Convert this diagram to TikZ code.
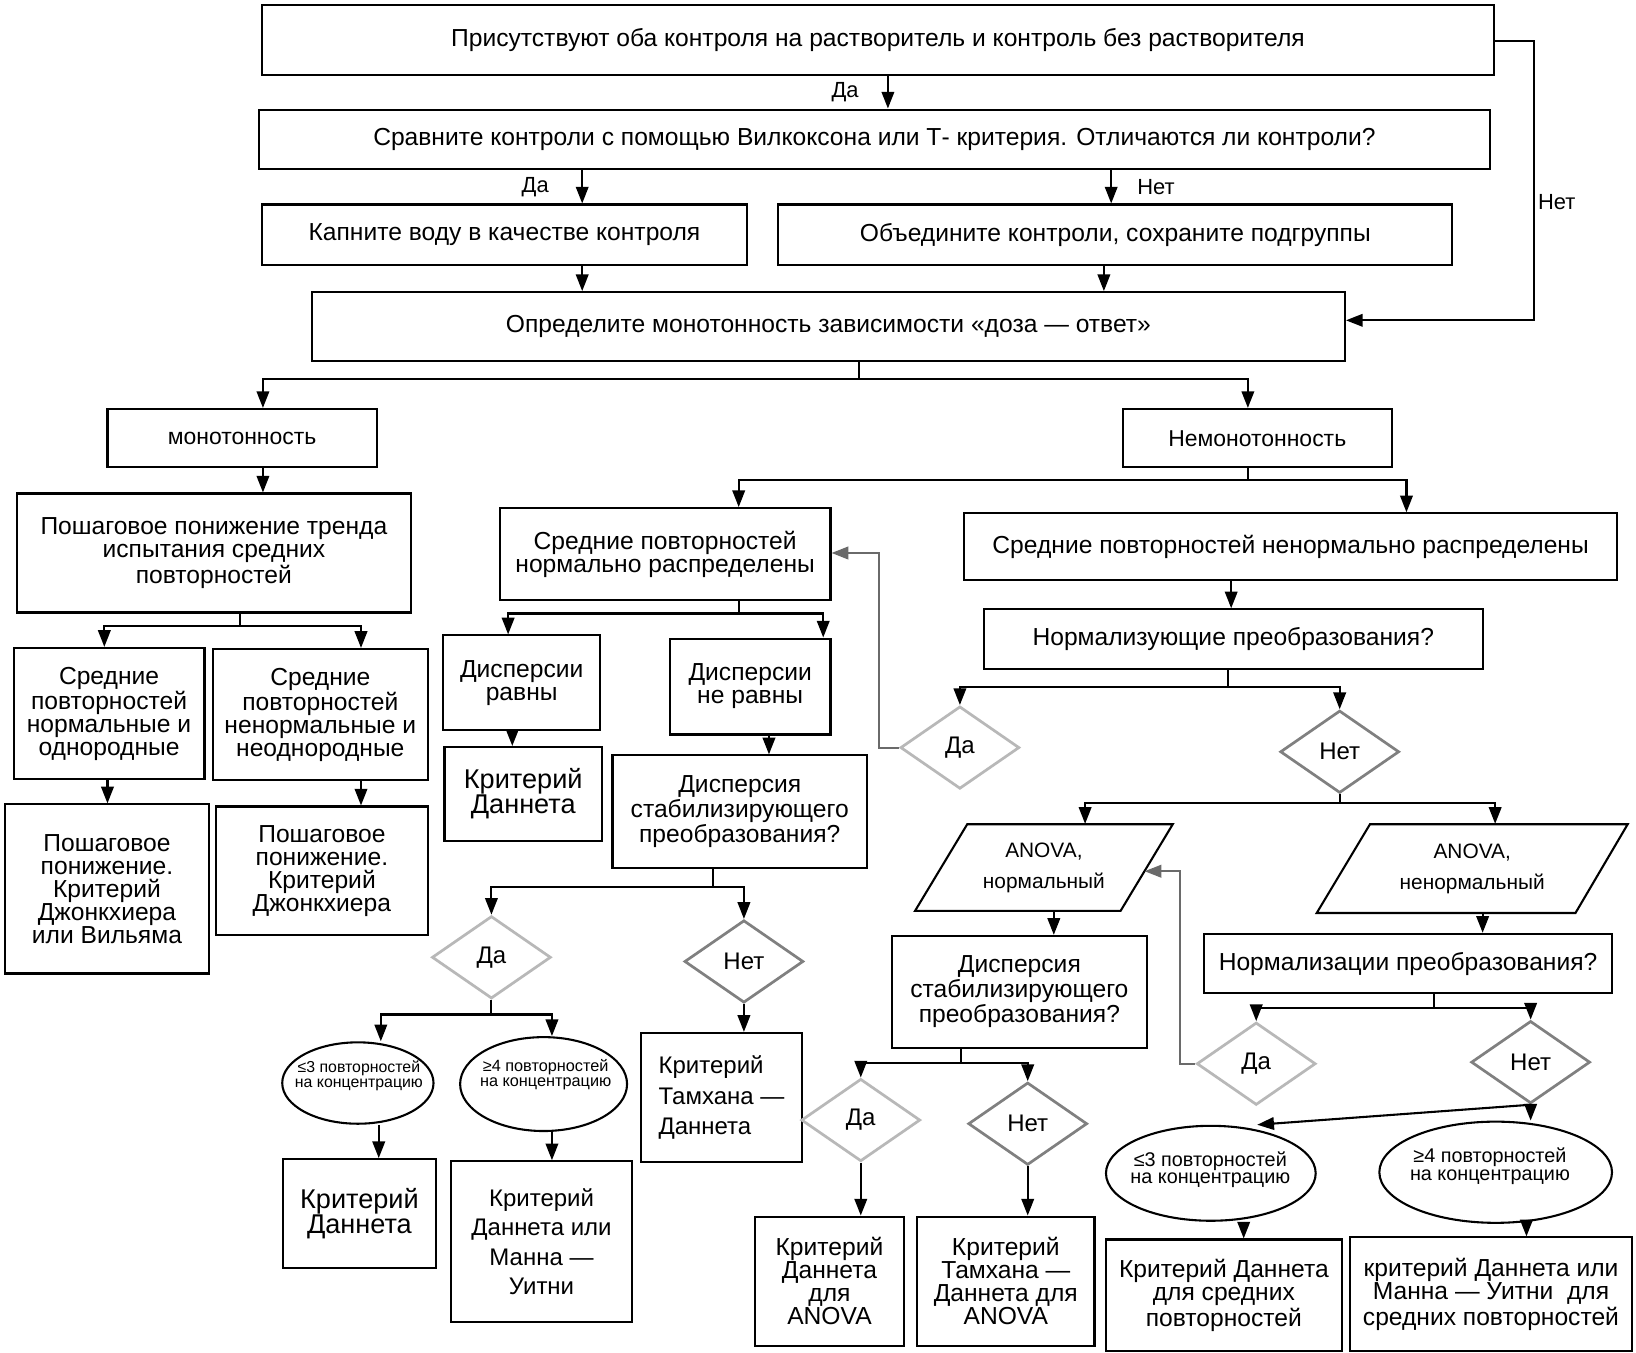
\documentclass[tikz,border=0pt]{standalone}
\usepackage{fontspec}
\setmainfont{Liberation Sans}
\usetikzlibrary{shapes.geometric,arrows.meta}
\newcommand\fsz[2]{\fontsize{#1}{#2}\selectfont}
\definecolor{lightg}{HTML}{B8B8B8}
\definecolor{darkg}{HTML}{808080}
\definecolor{arrg}{HTML}{6A6A6A}
\tikzset{
 box/.style={draw,line width=1pt,rectangle,inner sep=0pt,align=center,font=\fsz{11.8}{11}},
 arr/.style={line width=1pt,-{Triangle[length=8pt,width=6pt]}},
 ln/.style={line width=1pt},
 garr/.style={line width=1pt,draw=arrg,-{Triangle[length=8pt,width=6pt,fill=arrg]}},
 dia/.style={diamond,draw,line width=1.3pt,inner sep=0pt,minimum width=57pt,minimum height=39.5pt,font=\fsz{11.5}{11}},
 yes/.style={dia,draw=lightg},
 no/.style={dia,draw=darkg},
 ell/.style={ellipse,draw,line width=1pt,inner sep=0pt,align=center},
 lab/.style={font=\fsz{10.5}{10},inner sep=0pt},
 txt/.style={inner sep=0pt,align=center},
}
\newcommand\bx[7][]{\node[box,minimum width={(#5-#3)*0.5pt},minimum height={(#6-#4)*0.5pt},#1] (#2) at ({(#3+#5)/2},{(#4+#6)/2}) {#7};}
\begin{document}
\begin{tikzpicture}[x=0.5pt,y=-0.5pt]
\useasboundingbox (0,0) rectangle (1568,1296);
\fill[white] (0,0) rectangle (1568,1296);

\bx{top}{251}{5}{1432}{72}{Присутствуют оба контроля на растворитель и контроль без растворителя}
\bx{b2}{248}{105}{1428}{162}{Сравните контроли с помощью Вилкоксона или Т- критерия. Отличаются ли контроли?}
\bx{b3}{251}{196}{716}{254}{Капните воду в качестве контроля}
\bx{b4}{746}{196}{1392}{254}{Объедините контроли, сохраните подгруппы}
\bx{b5}{299}{280}{1289}{346}{Определите монотонность зависимости «доза — ответ»}
\bx[font=\fsz{11}{11}]{mono}{103}{392}{361}{448}{монотонность}
\bx[font=\fsz{11}{11}]{nemono}{1076}{392}{1334}{448}{Немонотонность}
\bx{b8}{16}{473}{394}{587}{Пошаговое понижение тренда\\испытания средних\\повторностей}
\bx{b9}{13}{621}{196}{747}{Средние\\повторностей\\нормальные и\\однородные}
\bx{b10}{204}{622}{410}{748}{Средние\\повторностей\\ненормальные и\\неоднородные}
\bx{b11}{5}{771}{200}{933}{Пошаговое\\понижение.\\Критерий\\Джонкхиера\\или Вильяма}
\bx{b12}{207}{773}{410}{896}{Пошаговое\\понижение.\\Критерий\\Джонкхиера}
\bx{b13}{479}{487}{796}{575}{Средние повторностей\\нормально распределены}
\bx{b14}{924}{492}{1550}{556}{Средние повторностей ненормально распределены}
\bx{b15}{425}{609}{575}{700}{Дисперсии\\равны}
\bx{b16}{642}{612}{796}{704}{Дисперсии\\не равны}
\bx[font=\fsz{13}{12}]{b17}{426}{716}{577}{806}{Критерий\\Даннета}
\bx{b18}{587}{724}{831}{832}{Дисперсия\\стабилизирующего\\преобразования?}
\node[yes] (d1) at (471,917.5) {Да};
\node[no] (d2) at (713,921.5) {Нет};
\node[ell,minimum width=72.5pt,minimum height=39pt] (e1) at (343,1038) {};
\node[txt,font=\fsz{7.6}{7}] (e1t) at (344,1031) {≤3 повторностей\\на концентрацию};
\node[ell,minimum width=80pt,minimum height=45pt] (e2) at (521,1039) {};
\node[txt,font=\fsz{7.8}{7}] (e2t) at (523,1030) {≥4 повторностей\\на концентрацию};
\bx[font=\fsz{13}{12}]{b19}{271}{1111}{418}{1215}{Критерий\\Даннета}
\bx[font=\fsz{11.5}{14}]{b20}{432}{1113}{606}{1267}{Критерий\\Даннета или\\Манна —\\Уитни}
\bx[font=\fsz{11.5}{14.5},align=left]{b21}{614}{990}{769}{1114}{Критерий\\Тамхана —\\Даннета}

\bx{b22}{943}{584}{1421}{641}{Нормализующие преобразования?}
\node[yes] (d3) at (920,716.5) {Да};
\node[no] (d4) at (1284,720.5) {Нет};
\draw[ln] (927,790) -- (1124,790) -- (1074,873) -- (877,873) -- cycle;
\node[txt,font=\fsz{10}{15},minimum width=98.5pt,minimum height=41.5pt] (p1) at (1000.5,831.5) {ANOVA,\\нормальный};
\draw[ln] (1313,790) -- (1560,790) -- (1510,875) -- (1262,875) -- cycle;
\node[txt,font=\fsz{10}{15},minimum width=123pt,minimum height=42.5pt] (p2) at (1411,832.5) {ANOVA,\\ненормальный};
\coordinate (p1r) at (1097,835);
\bx{b23}{855}{897}{1099}{1004}{Дисперсия\\стабилизирующего\\преобразования?}
\bx{b24}{1154}{895}{1545}{952}{Нормализации преобразования?}
\node[yes] (d5) at (825,1073.5) {Да};
\node[no] (d6) at (985,1077) {Нет};
\bx{b25}{724}{1166}{866}{1290}{Критерий\\Даннета\\для\\ANOVA}
\bx{b26}{879}{1166}{1049}{1290}{Критерий\\Тамхана —\\Даннета для\\ANOVA}
\node[yes] (d7) at (1204,1019.5) {Да};
\node[no] (d8) at (1467,1018) {Нет};
\node[ell,minimum width=100.5pt,minimum height=45.5pt] (e3) at (1160.5,1124.5) {};
\node[txt,font=\fsz{9.5}{8.5}] (e3t) at (1160,1121) {≤3 повторностей\\на концентрацию};
\node[ell,minimum width=111.5pt,minimum height=48.5pt] (e4) at (1433.5,1123.5) {};
\node[txt,font=\fsz{9.5}{8.5}] (e4t) at (1428,1118) {≥4 повторностей\\на концентрацию};
\bx{b27}{1060}{1188}{1286}{1295}{Критерий Даннета\\для средних\\повторностей}
\bx{b28}{1294}{1186}{1564}{1295}{критерий Даннета или\\Манна — Уитни\ \ для\\средних повторностей}

\node[lab] (l1) at (810,88) {Да};
\node[lab] (l2) at (513,179) {Да};
\node[lab] (l3) at (1108,179) {Нет};
\node[lab] (l4) at (1492,194) {Нет};

\draw[arr] (top.south -| 851,0) -- (b2.north -| 851,0);
\draw[arr] (b2.south -| 558,0) -- (b3.north -| 558,0);
\draw[arr] (b2.south -| 1065,0) -- (b4.north -| 1065,0);
\draw[arr] (b3.south -| 558,0) -- (b5.north -| 558,0);
\draw[arr] (b4.south -| 1058,0) -- (b5.north -| 1058,0);
\draw[arr] (top.east |- 0,39) -- ++(37,0) |- (b5.east |- 0,307);
\draw[arr] (b5.south -| 823,0) -- ++(0,16) -| (mono.north -| 252,0);
\draw[arr] (b5.south -| 823,0) -- ++(0,16) -| (nemono.north -| 1196,0);
\draw[arr] (mono.south -| 252,0) -- (b8.north -| 252,0);
\draw[arr] (b8.south -| 230,0) -- ++(0,12) -| (b9.north -| 100,0);
\draw[arr] (b8.south -| 230,0) -- ++(0,12) -| (b10.north -| 346,0);
\draw[arr] (b9.south -| 103,0) -- (b11.north -| 103,0);
\draw[arr] (b10.south -| 346,0) -- (b12.north -| 346,0);
\draw[arr] (nemono.south -| 1196,0) -- ++(0,11) -| (b13.north -| 708,0);
\draw[arr] (nemono.south -| 1196,0) -- ++(0,11) -| (b14.north -| 1348,0);
\draw[arr] (b13.south -| 708,0) -- ++(0,12) -| (b15.north -| 487,0);
\draw[arr] (b13.south -| 708,0) -- ++(0,12) -| (b16.north -| 789,0);
\draw[arr] (b15.south -| 491,0) -- (b17.north -| 491,0);
\draw[arr] (b16.south -| 737,0) -- (b18.north -| 737,0);
\draw[arr] (b18.south -| 683,0) -- ++(0,17) -| (d1.north);
\draw[arr] (b18.south -| 683,0) -- ++(0,17) -| (d2.north);
\draw[arr] (d1.south) -- ++(0,14) -| (e1.north -| 365,0);
\draw[arr] (d1.south) -- ++(0,14) -| (e2.north -| 529,0);
\draw[arr] (e1.south -| 363,0) -- (b19.north -| 363,0);
\draw[arr] (e2.south -| 529,0) -- (b20.north -| 529,0);
\draw[arr] (d2.south) -- (b21.north -| d2.south);
\draw[arr] (b14.south -| 1180,0) -- (b22.north -| 1180,0);
\draw[arr] (b22.south -| 1177,0) -- ++(0,16) -| (d3.north);
\draw[arr] (b22.south -| 1177,0) -- ++(0,16) -| (d4.north);
\draw[garr] (d3.west) -- ++(-19,0) |- (b13.east |- 0,530);
\draw[arr] (d4.south) -- ++(0,8) -| (p1.north -| 1040,0);
\draw[arr] (d4.south) -- ++(0,8) -| (p2.north -| 1433,0);
\draw[arr] (p1.south -| 1010,0) -- (b23.north -| 1010,0);
\draw[arr] (p2.south -| 1421,0) -- (b24.north -| 1421,0);
\draw[arr] (b23.south -| 921,0) -- ++(0,14) -| (d5.north);
\draw[arr] (b23.south -| 921,0) -- ++(0,14) -| (d6.north);
\draw[arr] (d5.south) -- (b25.north -| d5.south);
\draw[arr] (d6.south) -- (b26.north -| d6.south);
\draw[arr] (b24.south -| 1374,0) -- ++(0,13) -| (d7.north);
\draw[arr] (b24.south -| 1374,0) -- ++(0,13) -| (d8.north);
\draw[garr] (d7.west) -- ++(-15,0) |- (p1r);
\draw[arr] (d8.south) -- (e3.north -| 1205,0);
\draw[arr] (d8.south) -- (e4.north -| 1467,0);
\draw[arr] (e3.south -| 1192,0) -- (b27.north -| 1192,0);
\draw[arr] (e4.south -| 1463,0) -- (b28.north -| 1463,0);
\end{tikzpicture}
\end{document}
